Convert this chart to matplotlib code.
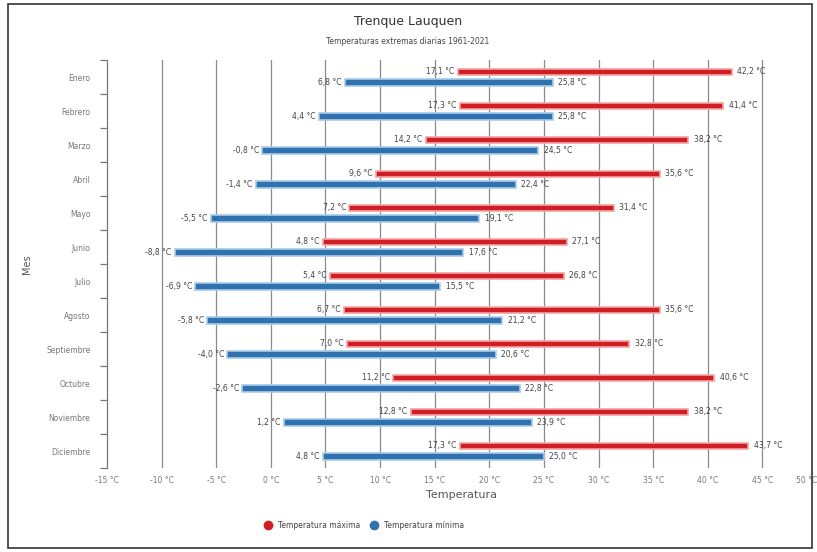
import matplotlib
matplotlib.use("Agg")
import matplotlib.pyplot as plt
from matplotlib.patches import Rectangle
import numpy as np

months = ["Enero", "Febrero", "Marzo", "Abril", "Mayo", "Junio", "Julio",
          "Agosto", "Septiembre", "Octubre", "Noviembre", "Diciembre"]
max_low = [17.1, 17.3, 14.2, 9.6, 7.2, 4.8, 5.4, 6.7, 7.0, 11.2, 12.8, 17.3]
max_high = [42.2, 41.4, 38.2, 35.6, 31.4, 27.1, 26.8, 35.6, 32.8, 40.6, 38.2, 43.7]
min_low = [6.8, 4.4, -0.8, -1.4, -5.5, -8.8, -6.9, -5.8, -4.0, -2.6, 1.2, 4.8]
min_high = [25.8, 25.8, 24.5, 22.4, 19.1, 17.6, 15.5, 21.2, 20.6, 22.8, 23.9, 25.0]
xticks = list(range(-15, 55, 5))

RED = "#cf1f24"
RED_EDGE = "#f4a3a5"
BLUE = "#2f72ad"
BLUE_EDGE = "#a9cbe8"
TXT = "#444444"

def fmt(v):
    return ("%.1f" % v).replace(".", ",") + " °C"

fig = plt.figure(figsize=(8.17, 5.52), dpi=100)
ax = fig.add_axes([107 / 817, (552 - 468) / 552, (817 - 107) / 817, (468 - 60) / 552])

n = len(months)
y = np.arange(n)
off = 0.15
h = 0.2

ax.barh(y - off, np.array(max_high) - np.array(max_low), left=max_low, height=h,
        color=RED, edgecolor=RED_EDGE, linewidth=1.2, zorder=3)
ax.barh(y + off, np.array(min_high) - np.array(min_low), left=min_low, height=h,
        color=BLUE, edgecolor=BLUE_EDGE, linewidth=1.2, zorder=3)

for i in range(n):
    ax.text(max_low[i] - 0.3, y[i] - off, fmt(max_low[i]), ha="right", va="center",
            fontsize=5.5, color=TXT, zorder=4)
    ax.text(max_high[i] + 0.5, y[i] - off, fmt(max_high[i]), ha="left", va="center",
            fontsize=5.5, color=TXT, zorder=4)
    ax.text(min_low[i] - 0.3, y[i] + off, fmt(min_low[i]), ha="right", va="center",
            fontsize=5.5, color=TXT, zorder=4)
    ax.text(min_high[i] + 0.5, y[i] + off, fmt(min_high[i]), ha="left", va="center",
            fontsize=5.5, color=TXT, zorder=4)

ax.set_xlim(-15, 50)
ax.set_ylim(n - 0.5, -0.5)
ax.set_xticks(xticks)
labels = ax.set_xticklabels(["%d °C" % t for t in xticks], fontsize=5.5, color="#777777")
labels[-1].set_horizontalalignment("right")
ax.tick_params(axis="x", length=0, pad=6)
for t in xticks:
    if -15 < t < 50:
        ax.axvline(t, color="#8a8a8a", linewidth=0.9, zorder=1)

ax.set_yticks(y)
ax.set_yticklabels(months, fontsize=5.5, color="#777777")
ax.set_yticks(np.arange(-0.5, n + 0.5, 1), minor=True)
ax.tick_params(axis="y", which="major", length=0, pad=12)
ax.tick_params(axis="y", which="minor", length=5, color="#777777", width=0.9)

for s in ["top", "right", "bottom"]:
    ax.spines[s].set_visible(False)
ax.spines["left"].set_color("#777777")
ax.spines["left"].set_linewidth(0.9)

ax.set_xlabel("Temperatura", fontsize=8, color="#555555", labelpad=3)
ax.set_ylabel("Mes", fontsize=7, color="#555555", labelpad=10)

fig.text(408 / 817, 1 - 22 / 552, "Trenque Lauquen", ha="center", va="center",
         fontsize=9, color="#333333")
fig.text(408 / 817, 1 - 42 / 552, "Temperaturas extremas diarias 1961-2021",
         ha="center", va="center", fontsize=5.5, color="#444444")

# legend
ly = 1 - 525 / 552
fig.lines.append(plt.Line2D([268 / 817], [ly], marker="o", markersize=6, color=RED,
                            transform=fig.transFigure, linestyle="none"))
fig.text(278 / 817, ly, "Temperatura máxima", ha="left", va="center", fontsize=5.5, color=TXT)
fig.lines.append(plt.Line2D([374 / 817], [ly], marker="o", markersize=6, color=BLUE,
                            transform=fig.transFigure, linestyle="none"))
fig.text(384 / 817, ly, "Temperatura mínima", ha="left", va="center", fontsize=5.5, color=TXT)

fig.patches.append(Rectangle((8 / 817, 4 / 552), 804 / 817, 544 / 552, fill=False,
                             edgecolor="#333333", linewidth=1.2, transform=fig.transFigure))

fig.savefig("out.png", dpi=100)
